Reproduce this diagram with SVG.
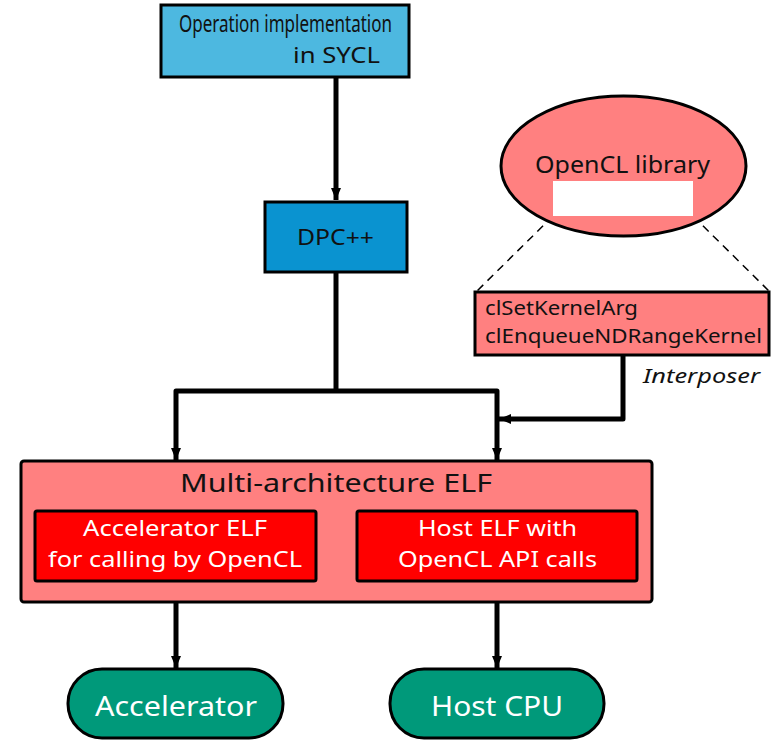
<svg xmlns="http://www.w3.org/2000/svg" width="772" height="740" viewBox="0 0 772 740">
<defs>
<style>
text{font-family:"Noto Sans","Open Sans","DejaVu Sans",sans-serif;fill:#111;}
.box{stroke:#000;stroke-width:3;}
.pink{fill:#FF8080;}
.red{fill:#FF0000;}
.wt{fill:#fff;}
.conn{fill:none;stroke:#000;stroke-width:5;stroke-linejoin:round;}
.dash{fill:none;stroke:#000;stroke-width:1.5;stroke-dasharray:8 6;}
</style>
<marker id="ah" viewBox="0 0 12 10" refX="12" refY="5" markerWidth="12" markerHeight="10" markerUnits="userSpaceOnUse" orient="auto">
<path d="M0,0 L12,5 L0,10 z" fill="#000"/>
</marker>
</defs>
<rect width="772" height="740" fill="#fff"/>
<g id="connectors">
<path class="conn" d="M336,77 V200" marker-end="url(#ah)"/>
<path class="conn" d="M336,272 V391"/>
<path class="conn" d="M336,391 H176 V460" marker-end="url(#ah)"/>
<path class="conn" d="M336,391 H497 V460" marker-end="url(#ah)"/>
<path class="conn" d="M623,355 V419 H499" marker-end="url(#ah)"/>
<path class="conn" d="M176,602 V668" marker-end="url(#ah)"/>
<path class="conn" d="M497,602 V668" marker-end="url(#ah)"/>
<path class="dash" d="M553,216 L476,292"/>
<path class="dash" d="M693,216 L770,292"/>
</g>
<g id="sycl">
<rect class="box" x="161" y="5" width="248" height="72" fill="#4DB8E0"/>
<text x="179" y="32" font-size="23" textLength="213" lengthAdjust="spacingAndGlyphs">Operation implementation</text>
<text x="293" y="63" font-size="22" textLength="87" lengthAdjust="spacingAndGlyphs">in SYCL</text>
</g>
<g id="dpc">
<rect class="box" x="265" y="202" width="142" height="70" fill="#0A93D0"/>
<text x="297" y="245" font-size="21" textLength="77" lengthAdjust="spacingAndGlyphs">DPC++</text>
</g>
<g id="opencl-library">
<ellipse class="box pink" cx="623.5" cy="166" rx="122.5" ry="70"/>
<text x="535" y="173" font-size="23" textLength="175" lengthAdjust="spacingAndGlyphs">OpenCL library</text>
<rect x="553" y="181" width="140" height="35" fill="#fff"/>
</g>
<g id="interposer">
<rect class="box pink" x="475" y="292" width="294" height="63"/>
<text x="485" y="315" font-size="20" textLength="153" lengthAdjust="spacingAndGlyphs">clSetKernelArg</text>
<text x="485" y="343" font-size="20" textLength="277" lengthAdjust="spacingAndGlyphs">clEnqueueNDRangeKernel</text>
<text x="643" y="383" font-size="20" font-style="italic" textLength="117" lengthAdjust="spacingAndGlyphs">Interposer</text>
</g>
<g id="multi-elf">
<rect class="box pink" x="21" y="461" width="631" height="141" rx="3"/>
<text x="180" y="492" font-size="25" textLength="312" lengthAdjust="spacingAndGlyphs">Multi-architecture ELF</text>
</g>
<g id="accel-elf">
<rect class="box red" x="35" y="511" width="281" height="70" rx="2"/>
<text class="wt" x="83" y="536" font-size="21" textLength="184" lengthAdjust="spacingAndGlyphs">Accelerator ELF</text>
<text class="wt" x="48" y="567" font-size="21" textLength="254" lengthAdjust="spacingAndGlyphs">for calling by OpenCL</text>
</g>
<g id="host-elf">
<rect class="box red" x="357" y="511" width="280" height="70" rx="2"/>
<text class="wt" x="418" y="536" font-size="21" textLength="159" lengthAdjust="spacingAndGlyphs">Host ELF with</text>
<text class="wt" x="398" y="567" font-size="21" textLength="199" lengthAdjust="spacingAndGlyphs">OpenCL API calls</text>
</g>
<g id="accelerator">
<rect class="box" x="68" y="669" width="215" height="69" rx="34" fill="#00997A"/>
<text class="wt" x="95" y="716" font-size="27" textLength="162" lengthAdjust="spacingAndGlyphs">Accelerator</text>
</g>
<g id="host-cpu">
<rect class="box" x="390" y="669" width="214" height="69" rx="34" fill="#00997A"/>
<text class="wt" x="431" y="716" font-size="27" textLength="132" lengthAdjust="spacingAndGlyphs">Host CPU</text>
</g>
</svg>
